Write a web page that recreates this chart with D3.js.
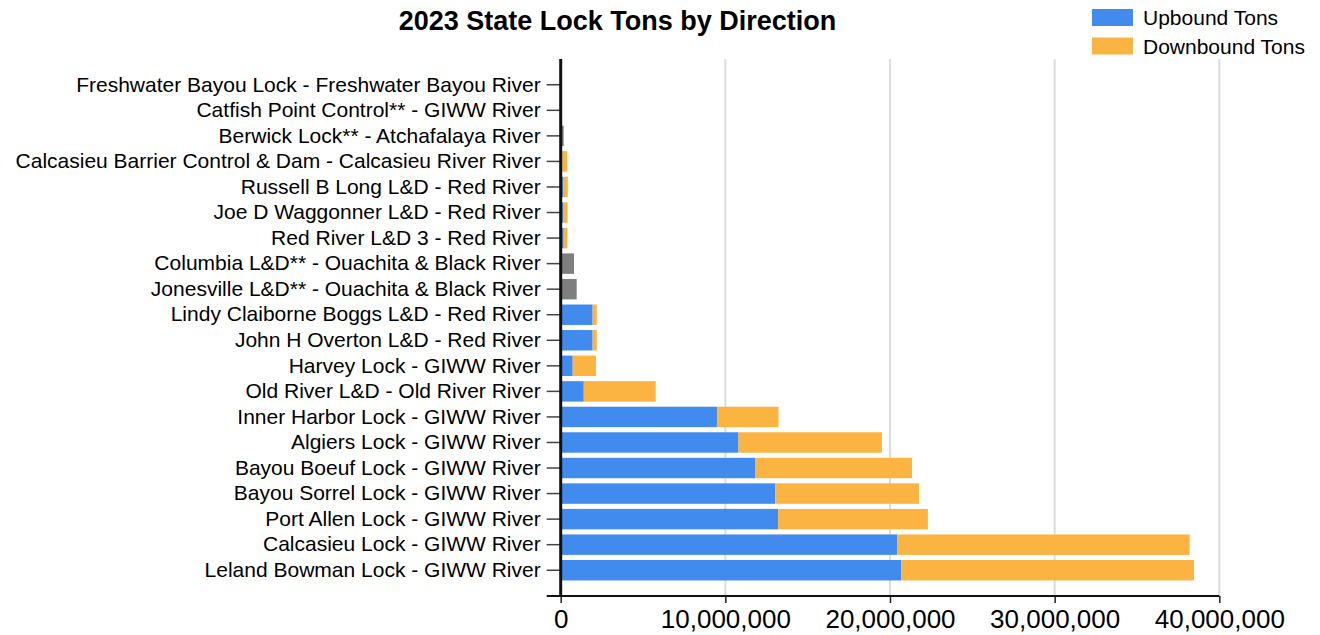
<!DOCTYPE html>
<html>
<head>
<meta charset="utf-8">
<script src="https://cdn.jsdelivr.net/npm/d3@7"></script>
<style>
  body { margin: 0; background: #fff; }
  svg { font-family: "Liberation Sans", Arial, sans-serif; }
</style>
</head>
<body>
<svg></svg>
<script>
// data, top row first
const categories = [
    'Freshwater Bayou Lock - Freshwater Bayou River',
    'Catfish Point Control** - GIWW River',
    'Berwick Lock** - Atchafalaya River',
    'Calcasieu Barrier Control & Dam - Calcasieu River River',
    'Russell B Long L&D - Red River',
    'Joe D Waggonner L&D - Red River',
    'Red River L&D 3 - Red River',
    'Columbia L&D** - Ouachita & Black River',
    'Jonesville L&D** - Ouachita & Black River',
    'Lindy Claiborne Boggs L&D - Red River',
    'John H Overton L&D - Red River',
    'Harvey Lock - GIWW River',
    'Old River L&D - Old River River',
    'Inner Harbor Lock - GIWW River',
    'Algiers Lock - GIWW River',
    'Bayou Boeuf Lock - GIWW River',
    'Bayou Sorrel Lock - GIWW River',
    'Port Allen Lock - GIWW River',
    'Calcasieu Lock - GIWW River',
    'Leland Bowman Lock - GIWW River'
];
const upboundTons = [0, 0, 0, 100000, 140000, 140000, 180000, 0, 0, 1940000, 1940000,
    730000, 1400000, 9490000, 10800000, 11830000, 13040000, 13210000, 20430000, 20670000];
const downboundTons = [0, 0, 0, 300000, 290000, 280000, 230000, 0, 0, 250000, 250000,
    1410000, 4370000, 3740000, 8710000, 9510000, 8720000, 9090000, 17770000, 17790000];
// locks with no direction split (drawn grey, not in legend)
const undirectedTons = [0, 0, 180000, 0, 0, 0, 0, 810000, 970000, 0, 0,
    0, 0, 0, 0, 0, 0, 0, 0, 0];
const xTicks = [0, 10000000, 20000000, 30000000, 40000000];

const size = {w: 1320, h: 635};
const plot = {l: 560.7, r: 1219.3, t: 59, b: 596};
const colors = {up: '#428bee', down: '#fbb441', other: '#7f7f7f'};

const svg = d3.select('svg')
    .attr('width', size.w)
    .attr('height', size.h);

let x = d3.scaleLinear()
    .domain([0, 40000000])
    .range([plot.l, plot.r]);

let y = d3.scaleBand()
    .domain(categories)
    .range([72, 583])
    .paddingInner(0.2)
    .paddingOuter(0.1);

// grid
svg.append('g').selectAll('line')
    .data(xTicks.slice(1))
    .join('line')
    .attr('x1', d => x(d)).attr('x2', d => x(d))
    .attr('y1', plot.t).attr('y2', plot.b)
    .attr('stroke', '#dcdcdc')
    .attr('stroke-width', 2);

let rows = categories.map((c, i) => ({
    cat: c, up: upboundTons[i], down: downboundTons[i], other: undirectedTons[i]
}));

let barsG = svg.append('g');
// grey
barsG.selectAll('rect.other')
    .data(rows.filter(d => d.other > 0))
    .join('rect').classed('other', true)
    .attr('x', x(0))
    .attr('y', d => y(d.cat))
    .attr('width', d => x(d.other) - x(0))
    .attr('height', y.bandwidth())
    .attr('fill', colors.other);
// upbound
barsG.selectAll('rect.up')
    .data(rows.filter(d => d.up > 0))
    .join('rect').classed('up', true)
    .attr('x', x(0))
    .attr('y', d => y(d.cat))
    .attr('width', d => x(d.up) - x(0))
    .attr('height', y.bandwidth())
    .attr('fill', colors.up);
// downbound stacked on top
barsG.selectAll('rect.down')
    .data(rows.filter(d => d.down > 0))
    .join('rect').classed('down', true)
    .attr('x', d => x(d.up))
    .attr('y', d => y(d.cat))
    .attr('width', d => x(d.up + d.down) - x(d.up))
    .attr('height', y.bandwidth())
    .attr('fill', colors.down);

// y axis
let yAxis = svg.append('g')
    .attr('transform', `translate(${plot.l},0)`)
    .call(d3.axisLeft(y).tickSize(14).tickPadding(6).tickSizeOuter(0));
yAxis.select('.domain').remove();
yAxis.selectAll('.tick line').attr('stroke', '#444').attr('stroke-width', 1.5);
yAxis.selectAll('text')
    .attr('font-size', 21)
    .attr('fill', '#000');

// x axis
let xAxis = svg.append('g')
    .attr('transform', `translate(0,${plot.b})`)
    .call(d3.axisBottom(x).tickValues(xTicks).tickSize(7).tickPadding(7)
        .tickFormat(d3.format(',')).tickSizeOuter(0));
xAxis.select('.domain').remove();
xAxis.selectAll('.tick line').attr('stroke', '#222').attr('stroke-width', 1.5);
xAxis.selectAll('text')
    .attr('font-size', 26)
    .attr('fill', '#000');

// frame lines
svg.append('line')
    .attr('x1', plot.l).attr('x2', plot.l)
    .attr('y1', plot.t).attr('y2', plot.b)
    .attr('stroke', '#111').attr('stroke-width', 3);
svg.append('line')
    .attr('x1', plot.l - 14).attr('x2', plot.r)
    .attr('y1', plot.b).attr('y2', plot.b)
    .attr('stroke', '#111').attr('stroke-width', 2);

// title
svg.append('text')
    .attr('x', 617.5)
    .attr('y', 29.5)
    .attr('text-anchor', 'middle')
    .attr('font-size', 27)
    .attr('font-weight', 'bold')
    .text('2023 State Lock Tons by Direction');

// legend
const legendItems = [
    {label: 'Upbound Tons', color: colors.up},
    {label: 'Downbound Tons', color: colors.down}
];
let legend = svg.append('g').selectAll('g')
    .data(legendItems)
    .join('g')
    .attr('transform', (d, i) => `translate(1092,${9 + i * 28.5})`);
legend.append('rect')
    .attr('width', 41).attr('height', 17)
    .attr('fill', d => d.color);
legend.append('text')
    .attr('x', 51).attr('y', 16)
    .attr('font-size', 21)
    .text(d => d.label);
</script>
</body>
</html>
